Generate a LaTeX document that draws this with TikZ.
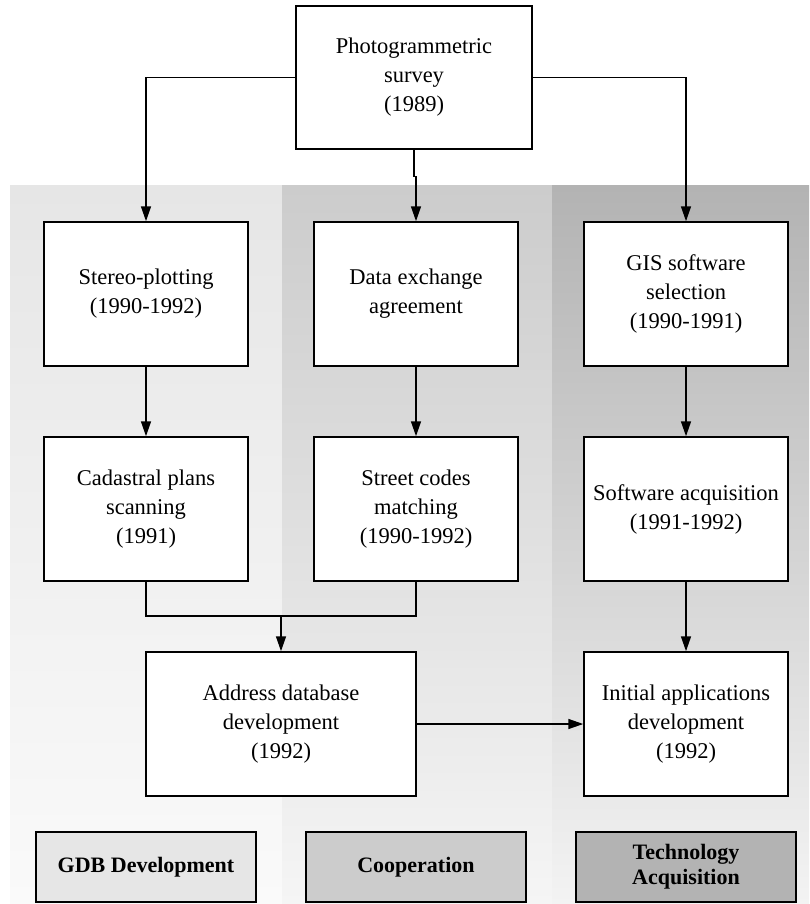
\documentclass[tikz,border=0pt]{standalone}
\usepackage{fontspec}
\setmainfont{Liberation Serif}
\usetikzlibrary{arrows.meta,positioning}
\definecolor{GdbTop}{HTML}{E6E6E6}
\definecolor{GdbLow}{HTML}{FAFAFA}
\definecolor{CoopTop}{HTML}{CCCCCC}
\definecolor{CoopLow}{HTML}{F5F5F5}
\definecolor{TechTop}{HTML}{B3B3B3}
\definecolor{TechLow}{HTML}{F3F3F3}

\begin{document}
\begin{tikzpicture}[x=1pt,y=-1pt,node distance=69.5pt and 64.5pt,
    box/.style={draw,line width=1.5pt,fill=white,minimum width=204pt,minimum height=144pt,inner sep=0pt,align=center,font=\fontsize{22.5}{29}\selectfont},
    legend/.style={draw,line width=1.5pt,minimum width=220pt,minimum height=70pt,inner sep=0pt,align=center,font=\fontsize{22}{25}\selectfont\bfseries},
    link/.style={line width=1.5pt},
    flow/.style={line width=1.5pt,-{Triangle[length=15pt,width=10pt]}}]
    \useasboundingbox (0,0) rectangle (809,904);
    \shade[top color=GdbTop,bottom color=GdbLow] (10,186) rectangle (282,904);
    \shade[top color=CoopTop,bottom color=CoopLow] (282,186) rectangle (552,904);
    \shade[top color=TechTop,bottom color=TechLow] (552,186) rectangle (809,904);

    \node[box,minimum width=236pt,minimum height=143pt] (survey) at (414,77.5) {Photogrammetric\\survey\\(1989)};
    \node[box] (stereo) at (146,294) {Stereo-plotting\\(1990-1992)};
    \node[box,right=of stereo] (exchange) {Data exchange\\agreement};
    \node[box,right=of exchange] (gissel) {GIS software\\selection\\(1990-1991)};
    \node[box,below=of stereo] (scan) {Cadastral plans\\scanning\\(1991)};
    \node[box,below=of exchange] (codes) {Street codes\\matching\\(1990-1992)};
    \node[box,below=of gissel] (acquire) {Software acquisition\\(1991-1992)};
    \node[box,below=of acquire] (apps) {Initial applications\\development\\(1992)};
    \node[box,minimum width=270pt] (address) at (apps -| 281,0) {Address database\\development\\(1992)};

    \node[legend,fill=GdbTop] (gdb) at (146,867) {GDB Development};
    \node[legend,fill=CoopTop] (coop) at (416,867) {Cooperation};
    \node[legend,fill=TechTop] (tech) at (686,867) {Technology\\Acquisition};

    \draw[flow] (survey.west) -| (stereo.north);
    \draw[flow] (survey.south) -- ++(0,27) -| (exchange.north);
    \draw[flow] (survey.east) -| (gissel.north);
    \draw[flow] (stereo) -- (scan);
    \draw[flow] (exchange) -- (codes);
    \draw[flow] (gissel) -- (acquire);
    \draw[flow] (acquire) -- (apps);
    \coordinate[below=34pt of scan.south] (join);
    \draw[link] (scan.south) -- (join) -| (codes.south);
    \draw[flow] (join -| address.north) -- (address.north);
    \draw[flow] (address) -- (apps);
  \end{tikzpicture}
\end{document}
